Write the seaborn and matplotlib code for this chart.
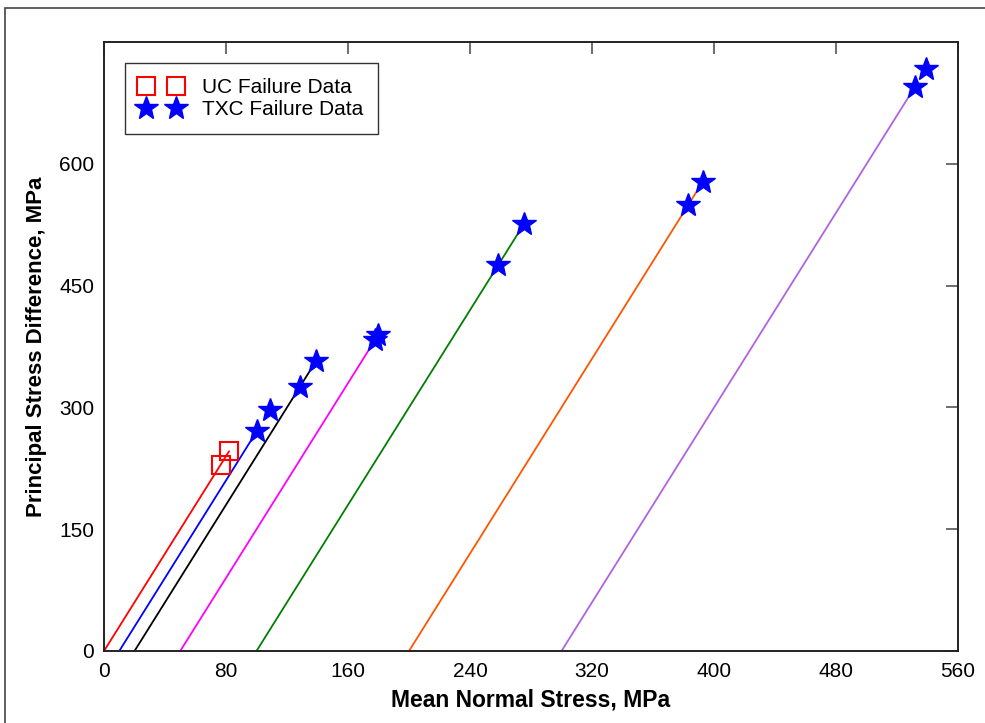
import matplotlib
matplotlib.use("Agg")
import matplotlib.pyplot as plt
from matplotlib.lines import Line2D
from matplotlib.patches import Rectangle
import numpy as np
import pandas as pd
import seaborn as sns

# Stress paths: start at the confining-pressure mean stress, end at failure
path_names = ["UC", "TXC 10", "TXC 20", "TXC 50", "TXC 100", "TXC 200", "TXC 300"]
path_p_start = [0, 10, 20, 50, 100, 200, 300]
path_p_end = [82.0, 100.3, 139.0, 177.7, 275.4, 390.0, 531.8]
path_q_end = [246.0, 271.0, 357.0, 383.0, 526.0, 570.0, 695.0]
path_colors = ["#FF0000", "#0000FF", "#000000", "#FF00FF", "#007F00", "#FF5500", "#B062E0"]

# Unconfined compression failure points
uc_p = [76.5, 82.0]
uc_q = [229.5, 246.0]

# Triaxial compression failure points
txc_p = [100.3, 108.9, 128.5, 139.0, 177.7, 179.7, 258.4, 275.4, 383.0, 392.8, 531.8, 539.0]
txc_q = [271.0, 297.0, 325.5, 357.0, 383.0, 389.0, 475.0, 526.0, 549.0, 578.0, 695.0, 717.0]

x_ticks = [0, 80, 160, 240, 320, 400, 480, 560]
y_ticks = [0, 150, 300, 450, 600]

sns.set_theme(style="white")
plt.rcParams["font.family"] = ["Liberation Sans", "DejaVu Sans"]
plt.rcParams["text.color"] = "black"
plt.rcParams["axes.labelcolor"] = "black"

paths = pd.DataFrame({
    "path": path_names * 2,
    "p": path_p_start + path_p_end,
    "q": [0.0] * len(path_names) + path_q_end,
})

fig = plt.figure(figsize=(9.85, 7.23), dpi=100)
ax = fig.add_axes([0.1056, 0.0996, 0.8670, 0.8423])

sns.lineplot(data=paths, x="p", y="q", hue="path", hue_order=path_names,
             palette=path_colors, estimator=None, sort=False, legend=False,
             linewidth=1.3, ax=ax)

ax.plot(uc_p, uc_q, linestyle="none", marker="s", markersize=13.5,
        markerfacecolor="none", markeredgecolor="#FF0000", markeredgewidth=1.5,
        zorder=5)
ax.plot(txc_p, txc_q, linestyle="none", marker="*", markersize=18,
        markerfacecolor="#0000FF", markeredgecolor="#0000FF", zorder=6)

ax.set_xlim(0, 560)
ax.set_ylim(0, 750)
ax.set_xticks(x_ticks)
ax.set_yticks(y_ticks)
ax.tick_params(direction="in", length=8.5, width=1.2, color="#555555",
               top=True, right=True, labelsize=15, labelcolor="black")
ax.tick_params(axis="x", pad=8)
ax.tick_params(axis="y", pad=7)
for s in ax.spines.values():
    s.set_color("#222222")
    s.set_linewidth(1.4)

ax.set_xlabel("Mean Normal Stress, MPa", fontsize=16.5, fontweight="bold",
              labelpad=5)
ax.set_ylabel("Principal Stress Difference, MPa", fontsize=16, fontweight="bold",
              labelpad=9)

handles = [
    Line2D([], [], linestyle="none", marker="s", markersize=13.5,
           markerfacecolor="none", markeredgecolor="#FF0000", markeredgewidth=1.5),
    Line2D([], [], linestyle="none", marker="*", markersize=18,
           markerfacecolor="#0000FF", markeredgecolor="#0000FF"),
]
leg = ax.legend(handles, ["UC Failure Data", "TXC Failure Data"], loc="upper left",
                bbox_to_anchor=(0.0246, 0.9655), numpoints=2, fontsize=15,
                frameon=True, fancybox=False, edgecolor="black",
                handlelength=2.04, handletextpad=0.92, borderpad=0.72,
                labelspacing=0.16, borderaxespad=0)
leg.get_frame().set_linewidth(1.0)

# Outer figure frame
fig.patches.append(Rectangle((5 / 985, -0.2), 1.2, (723 - 8) / 723 + 0.2,
                             transform=fig.transFigure, fill=False,
                             edgecolor="#444444", linewidth=1.2))

fig.savefig("out.png", dpi=100)
